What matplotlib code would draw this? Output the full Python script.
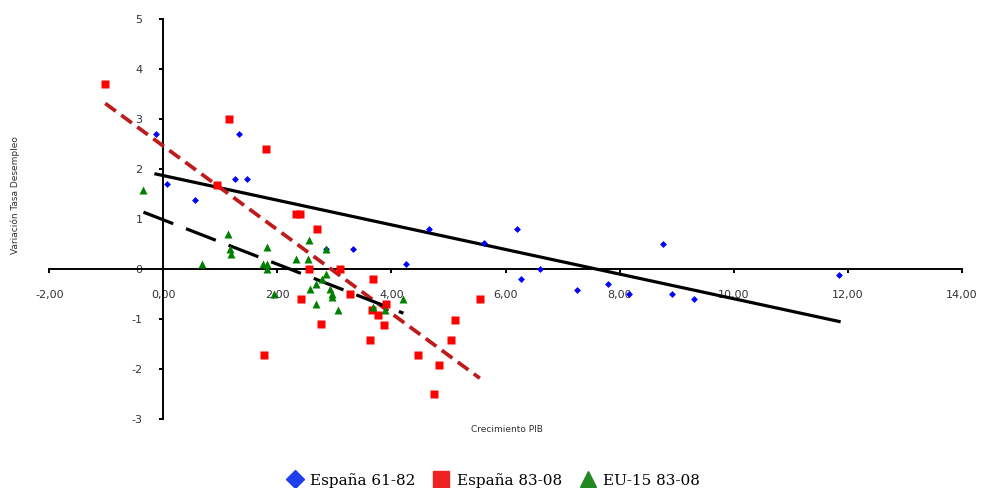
# ____________________________________________________________
# import modules
import numpy as np
import matplotlib.pyplot as plt
from matplotlib.lines import Line2D


# ____________________________________________________________
# data

# España 61-82
x_es1 = [-0.13, 0.06, 0.56, 1.32, 1.26, 1.47, 2.85, 3.32, 4.25, 4.66, 5.62,
         6.20, 6.27, 6.61, 7.26, 7.80, 8.16, 8.77, 8.92, 9.31, 11.85]
y_es1 = [2.70, 1.70, 1.39, 2.70, 1.80, 1.80, 0.40, 0.40, 0.10, 0.80, 0.52,
         0.80, -0.20, 0.00, -0.41, -0.30, -0.50, 0.50, -0.50, -0.60, -0.11]

# España 83-08
x_es2 = [-1.02, 1.15, 1.80, 0.94, 2.32, 2.39, 2.70, 2.56, 3.10, 2.42, 2.77,
         3.27, 3.67, 3.65, 3.77, 3.87, 3.90, 3.63, 1.77, 4.47, 4.84, 4.75,
         5.05, 5.12, 5.55]
y_es2 = [3.70, 3.00, 2.40, 1.69, 1.10, 1.10, 0.80, 0.00, 0.00, -0.60, -1.10,
         -0.50, -0.20, -0.81, -0.91, -1.11, -0.70, -1.41, -1.71, -1.71, -1.91,
         -2.50, -1.41, -1.01, -0.60]

# EU-15 83-08
x_eu = [-0.35, 0.67, 1.14, 1.16, 1.18, 1.82, 1.75, 1.81, 1.82, 1.94, 2.32,
        2.55, 2.54, 2.85, 2.86, 2.78, 2.68, 2.58, 2.93, 2.95, 2.96, 2.68,
        3.06, 3.67, 3.88, 4.21]
y_eu = [1.59, 0.10, 0.70, 0.40, 0.30, 0.45, 0.10, 0.10, 0.00, -0.50, 0.20,
        0.59, 0.20, 0.40, -0.10, -0.20, -0.30, -0.40, -0.40, -0.50, -0.55,
        -0.70, -0.81, -0.76, -0.81, -0.60]

# trend lines (slope, intercept)
trend_es1 = (-0.246, 1.87)
trend_es2 = (-0.836, 2.46)
trend_eu = (-0.443, 0.985)

labels = ['España 61-82', 'España 83-08', 'EU-15 83-08']
x_ticks = [-2, 0, 2, 4, 6, 8, 10, 12, 14]
y_ticks = [-3, -2, -1, 0, 1, 2, 3, 4, 5]


# ____________________________________________________________
# plot

fig = plt.figure(figsize=(9.81, 4.88), dpi=100)
ax = fig.add_axes([0.0503, 0.1408, 0.930, 0.8203])

def trend(x, coef):
    xs = np.array([min(x), max(x)])
    return xs, coef[0] * xs + coef[1]

xs, ys = trend(x_es1, trend_es1)
ax.plot(xs, ys, color='black', lw=2.3, zorder=3)
xs, ys = trend(x_es2, trend_es2)
ax.plot(xs, ys, color='#BE1C1C', lw=2.7, dashes=[3.5, 1.8], zorder=3)
xs, ys = trend(x_eu, trend_eu)
ax.plot(xs, ys, color='black', lw=2.3, dashes=[10, 4.3], zorder=3)

ax.plot(x_es1, y_es1, 'D', color='#0000FF', ms=3.5, mec='none', zorder=4)
ax.plot(x_es2, y_es2, 's', color='#FF0000', ms=5.5, mec='none', zorder=4)
ax.plot(x_eu, y_eu, '^', color='#008000', ms=5.5, mec='none', zorder=4)

ax.set_xlim(-2, 14)
ax.set_ylim(-3, 5)
ax.spines['left'].set_position(('data', 0))
ax.spines['bottom'].set_position(('data', 0))
ax.spines['top'].set_visible(False)
ax.spines['right'].set_visible(False)
for s in ['left', 'bottom']:
    ax.spines[s].set_linewidth(1.4)

ax.set_xticks(x_ticks)
ax.set_xticklabels([('%.2f' % v).replace('.', ',') for v in x_ticks])
ax.set_yticks(y_ticks)
ax.set_yticklabels([str(v) for v in y_ticks])
ax.tick_params(axis='both', direction='out', length=3, width=1.4,
               labelsize=8, labelcolor='#333333')
ax.tick_params(axis='x', pad=12)
ax.tick_params(axis='y', pad=12)

fig.text(0.517, 0.119, 'Crecimiento PIB', ha='center', va='center',
         fontsize=6.5, color='#303030')
fig.text(0.016, 0.60, 'Variación Tasa Desempleo', rotation=90,
         ha='center', va='center', fontsize=6.5, color='#303030')

handles = [
    Line2D([], [], marker='D', color='#1F3FEF', ls='none', ms=9),
    Line2D([], [], marker='s', color='#EE2222', ls='none', ms=11),
    Line2D([], [], marker='^', color='#228822', ls='none', ms=12),
]
fig.legend(handles, labels, loc='center', bbox_to_anchor=(0.503, 0.016),
           ncol=3, frameon=False, handlelength=1.0, handletextpad=0.5,
           columnspacing=1.2, prop={'family': 'DejaVu Serif', 'size': 11})

fig.savefig('out.png', dpi=100)
